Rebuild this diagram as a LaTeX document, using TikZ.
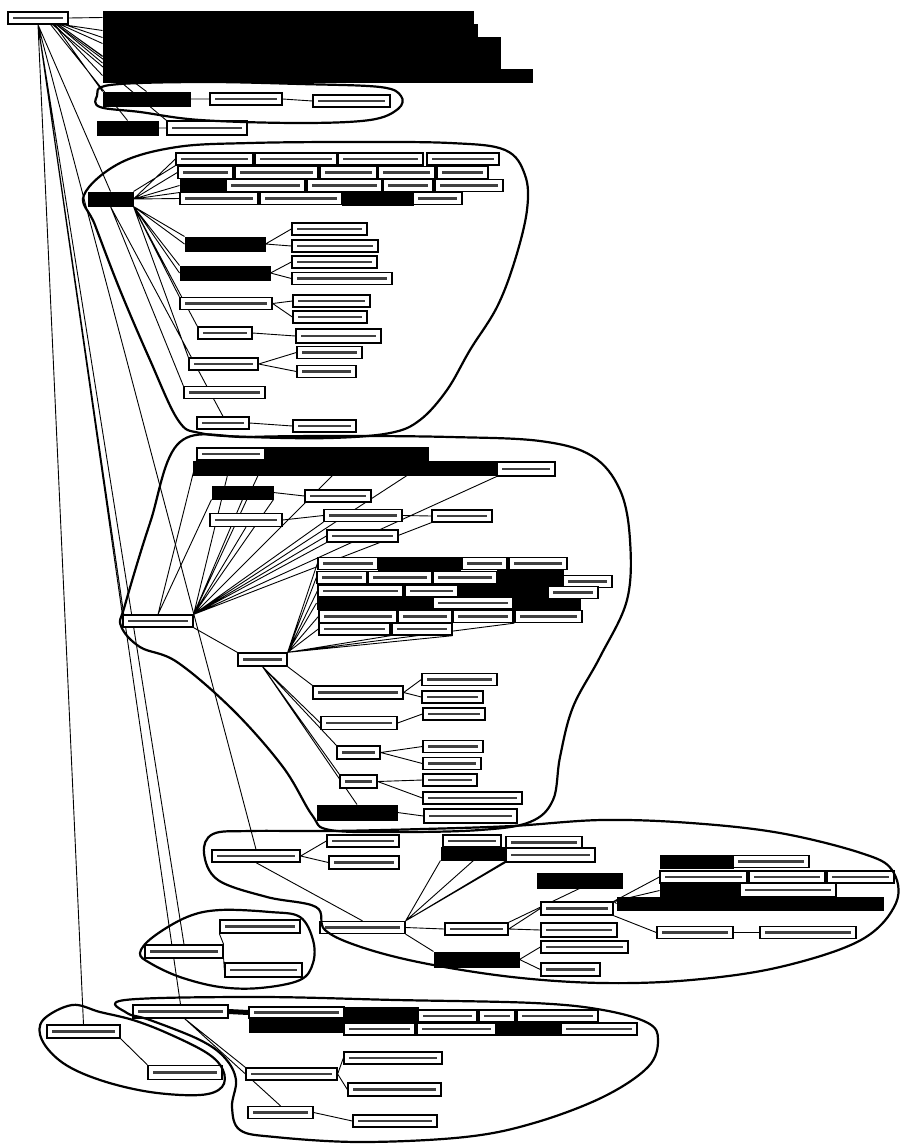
\documentclass[tikz,border=0pt]{standalone}
\usepackage{tikz}
\pgfdeclarelayer{back}
\pgfsetlayers{back,main}

\begin{document}
\begin{tikzpicture}[x=1pt,y=-1pt,
    lbl/.style={draw,line width=1.3pt,fill=white,inner sep=0pt,minimum height=12,
      path picture={\fill[black!75] ([xshift=5pt,yshift=-1.1pt]path picture bounding box.west)
        rectangle ([xshift=-5pt,yshift=1.1pt]path picture bounding box.east);}},
    blk/.style={draw,line width=1pt,fill=black,inner sep=0pt,minimum height=13},
    link/.style={line width=0.9pt},
    blob/.style={line width=2.2pt,line join=round}]
    \useasboundingbox (0,0) rectangle (903,1144);
    \begin{pgfonlayer}{back}
        \fill[white] (0,0) rectangle (903,1144);
    \end{pgfonlayer}

    % root
    \node[lbl,minimum width=60] (sys) at (38,18) {};

    % top block of stacked entries
    \node[blk,minimum width=370] (t1) at (288,17.5) {};
    \node[blk,minimum width=374] (t2) at (290,30.5) {};
    \node[blk,minimum width=397] (t3) at (301.5,43.5) {};
    \node[blk,minimum width=397] (t4) at (301.5,56.5) {};
    \node[blk,minimum width=397] (t5) at (301.5,63) {};
    \node[blk,minimum width=429] (t6) at (317.5,75.5) {};

    % first group
    \node[blk,minimum width=87,minimum height=14] (ua) at (146.5,99) {};
    \node[lbl,minimum width=72] (ub) at (246,99) {};
    \node[lbl,minimum width=77] (uc) at (351.5,101) {};
    \node[blk,minimum width=61,minimum height=14] (ud) at (127.5,128) {};
    \node[lbl,minimum width=80,minimum height=14] (ue) at (207,128) {};

    % second group
    \node[blk,minimum width=45,minimum height=14] (hubb) at (110.5,199) {};
    \node[lbl,minimum width=77] (ra1) at (214.5,159) {};
    \node[lbl,minimum width=82] (ra2) at (296,159) {};
    \node[lbl,minimum width=85] (ra3) at (380.5,159) {};
    \node[lbl,minimum width=72] (ra4) at (463,159) {};
    \node[lbl,minimum width=55] (rb1) at (205.5,172.5) {};
    \node[lbl,minimum width=83] (rb2) at (276.5,172.5) {};
    \node[lbl,minimum width=57] (rb3) at (348.5,172.5) {};
    \node[lbl,minimum width=57] (rb4) at (406.5,172.5) {};
    \node[lbl,minimum width=51] (rb5) at (462.5,172.5) {};
    \node[blk,minimum width=45] (rc1) at (202.5,185.5) {};
    \node[lbl,minimum width=79] (rc2) at (265.5,185.5) {};
    \node[lbl,minimum width=75] (rc3) at (344.5,185.5) {};
    \node[lbl,minimum width=50] (rc4) at (408,185.5) {};
    \node[lbl,minimum width=68] (rc5) at (469,185.5) {};
    \node[lbl,minimum width=78] (rd1) at (219,198.5) {};
    \node[lbl,minimum width=82] (rd2) at (301,198.5) {};
    \node[blk,minimum width=71] (rd3) at (377.5,198.5) {};
    \node[lbl,minimum width=49] (rd4) at (437.5,198.5) {};

    \node[blk,minimum width=80,minimum height=14] (sa) at (225,244) {};
    \node[lbl,minimum width=75] (sa1) at (329.5,229) {};
    \node[lbl,minimum width=86] (sa2) at (335,246) {};
    \node[blk,minimum width=90,minimum height=14] (sb) at (225,273) {};
    \node[lbl,minimum width=85] (sb1) at (334.5,262) {};
    \node[lbl,minimum width=100] (sb2) at (342,278.5) {};
    \node[lbl,minimum width=92] (sc) at (226,303.5) {};
    \node[lbl,minimum width=77] (sc1) at (331.5,301) {};
    \node[lbl,minimum width=74] (sc2) at (330,317) {};
    \node[lbl,minimum width=54] (sd) at (225,333) {};
    \node[lbl,minimum width=85,minimum height=14] (sd1) at (338.5,336) {};
    \node[lbl,minimum width=69] (se) at (223.5,364) {};
    \node[lbl,minimum width=65] (se1) at (329.5,352.5) {};
    \node[lbl,minimum width=59] (se2) at (326.5,371.5) {};
    \node[lbl,minimum width=81] (sf) at (224.5,392.5) {};
    \node[lbl,minimum width=52] (sg) at (223,423) {};
    \node[lbl,minimum width=63] (sg1) at (324.5,426) {};

    % third group
    \node[lbl,minimum width=68] (ha) at (231,454) {};
    \node[blk,minimum width=163,minimum height=14] (hk) at (346.5,454) {};
    \node[blk,minimum width=302,minimum height=14] (hr) at (344,468) {};
    \node[lbl,minimum width=58,minimum height=14] (hb) at (526,469) {};
    \node[blk,minimum width=61] (ia) at (242.5,492.5) {};
    \node[lbl,minimum width=66] (ia1) at (338,496) {};
    \node[lbl,minimum width=72,minimum height=13] (ja) at (246,520) {};
    \node[lbl,minimum width=78] (ka) at (363,515.5) {};
    \node[lbl,minimum width=60] (kb) at (462,516) {};
    \node[lbl,minimum width=71] (la) at (362.5,536) {};
    \node[lbl,minimum width=70] (hubc) at (158,621) {};
    \node[lbl,minimum width=49,minimum height=13] (mm) at (262.5,659.5) {};

    \node[blk,minimum width=82] (ca2) at (419,563.5) {};
    \node[blk,minimum width=66,minimum height=15] (cb4) at (530,577.5) {};
    \node[blk,minimum width=90,minimum height=14] (cc3) at (503,590) {};
    \node[blk,minimum width=116] (cd1) at (375,603) {};
    \node[blk,minimum width=67] (cd3) at (546.5,603) {};
    \node[lbl,minimum width=60] (ca1) at (348,563.5) {};
    \node[lbl,minimum width=45] (ca3) at (484.5,563.5) {};
    \node[lbl,minimum width=58] (ca4) at (538,563.5) {};
    \node[lbl,minimum width=50] (cb1) at (342,577.5) {};
    \node[lbl,minimum width=64] (cb2) at (400,577.5) {};
    \node[lbl,minimum width=64] (cb3) at (465,577.5) {};
    \node[lbl,minimum width=49] (cb5) at (587.5,581.5) {};
    \node[lbl,minimum width=85] (cc1) at (360.5,591) {};
    \node[lbl,minimum width=53] (cc2) at (431.5,591) {};
    \node[lbl,minimum width=50] (cc4) at (573,592.5) {};
    \node[lbl,minimum width=80] (cd2) at (473,603) {};
    \node[lbl,minimum width=78] (ce1) at (358,616.5) {};
    \node[lbl,minimum width=54] (ce2) at (425,616.5) {};
    \node[lbl,minimum width=60] (ce3) at (483,616.5) {};
    \node[lbl,minimum width=67] (ce4) at (548.5,616.5) {};
    \node[lbl,minimum width=71] (cf1) at (354.5,629) {};
    \node[lbl,minimum width=60] (cf2) at (422,629) {};

    \node[lbl,minimum width=90,minimum height=13] (na) at (358,692.5) {};
    \node[lbl,minimum width=75] (na1) at (459.5,679.5) {};
    \node[lbl,minimum width=61] (na2) at (452.5,697) {};
    \node[lbl,minimum width=76,minimum height=13] (oa) at (359,723) {};
    \node[lbl,minimum width=62] (oa1) at (454,714) {};
    \node[lbl,minimum width=43,minimum height=13] (pa) at (358.5,752.5) {};
    \node[lbl,minimum width=60] (pa1) at (453,746.5) {};
    \node[lbl,minimum width=58] (pa2) at (452,763.5) {};
    \node[lbl,minimum width=37,minimum height=13] (qa) at (358.5,781.5) {};
    \node[lbl,minimum width=54] (qa1) at (450,780) {};
    \node[lbl,minimum width=99] (qa2) at (472.5,798) {};
    \node[blk,minimum width=80,minimum height=15] (xa) at (357,812.5) {};
    \node[lbl,minimum width=93,minimum height=14] (xa1) at (470.5,816) {};

    % fourth group
    \node[lbl,minimum width=88] (sw) at (256,856) {};
    \node[lbl,minimum width=72] (sw1) at (363,841) {};
    \node[lbl,minimum width=70,minimum height=13] (sw2) at (364,862.5) {};
    \node[blk,minimum width=65] (tk) at (473.5,853.5) {};
    \node[lbl,minimum width=58] (tw) at (472,841) {};
    \node[lbl,minimum width=76] (tw1) at (544,842.5) {};
    \node[lbl,minimum width=89,minimum height=14] (tw2) at (550.5,855) {};
    \node[blk,minimum width=85,minimum height=15] (uk) at (579.5,880.5) {};
    \node[lbl,minimum width=85] (hubd) at (362.5,927.5) {};
    \node[lbl,minimum width=63] (va) at (476.5,929) {};
    \node[lbl,minimum width=76,minimum height=14] (va1) at (579,930) {};
    \node[lbl,minimum width=72,minimum height=13] (wa) at (577,908.5) {};
    \node[lbl,minimum width=87] (xb) at (584.5,947) {};
    \node[blk,minimum width=85,minimum height=15] (yk) at (476.5,959.5) {};
    \node[lbl,minimum width=59,minimum height=13] (za) at (570.5,969.5) {};
    \node[blk,minimum width=266] (k4k) at (750,903.5) {};
    \node[blk,minimum width=73] (k1k) at (696.5,861.5) {};
    \node[blk,minimum width=80,minimum height=15] (k3k) at (700,890.5) {};
    \node[lbl,minimum width=76] (k1) at (771,861.5) {};
    \node[lbl,minimum width=87] (k2a) at (703.5,877) {};
    \node[lbl,minimum width=76] (k2b) at (787,877) {};
    \node[lbl,minimum width=67] (k2c) at (860.5,877) {};
    \node[lbl,minimum width=96,minimum height=13] (k3) at (788,890) {};
    \node[lbl,minimum width=76] (aa) at (695,932.5) {};
    \node[lbl,minimum width=96] (ab) at (808,932.5) {};

    % fifth group
    \node[lbl,minimum width=78,minimum height=13] (mf) at (184,951.5) {};
    \node[lbl,minimum width=80,minimum height=13] (tf) at (260,926.5) {};
    \node[lbl,minimum width=77,minimum height=14] (bf) at (263.5,970) {};

    % sixth group
    \node[lbl,minimum width=95,minimum height=13] (hube) at (180.5,1011.5) {};
    \node[blk,minimum width=95,minimum height=14] (fk) at (296.5,1025) {};
    \node[lbl,minimum width=95,minimum height=11] (fa) at (296.5,1012.5) {};
    \node[blk,minimum width=74,minimum height=15] (fk2) at (381,1014.5) {};
    \node[blk,minimum width=65] (fk3) at (528.5,1029) {};
    \node[lbl,minimum width=59] (fb) at (447.5,1016) {};
    \node[lbl,minimum width=36] (fc) at (497,1016) {};
    \node[lbl,minimum width=81] (fd) at (557.5,1016) {};
    \node[lbl,minimum width=71] (fe) at (379.5,1029) {};
    \node[lbl,minimum width=79] (ff) at (456.5,1029) {};
    \node[lbl,minimum width=76] (fg) at (599,1029) {};
    \node[lbl,minimum width=91] (bb) at (291.5,1074) {};
    \node[lbl,minimum width=98] (bb1) at (393,1058) {};
    \node[lbl,minimum width=93,minimum height=13] (bb2) at (394.5,1089.5) {};
    \node[lbl,minimum width=65] (cc) at (280.5,1112.5) {};
    \node[lbl,minimum width=84] (cc5) at (395,1121) {};

    % seventh group
    \node[lbl,minimum width=73,minimum height=13] (dd) at (83.5,1031.5) {};
    \node[lbl,minimum width=74,minimum height=14] (ee) at (185,1072.5) {};

    \begin{pgfonlayer}{back}
        % from the root
        \draw[link] (sys.east) -- (t1.west) ([xshift=-6pt]sys.south east) -- (t2.west)
            ([xshift=-8pt]sys.south east) -- (t3.west) ([xshift=-10pt]sys.south east) -- (t4.west)
            ([xshift=-12pt]sys.south east) -- (t5.west) ([xshift=-14pt]sys.south east) -- (t6.west)
            ([xshift=-4pt]sys.south east) -- (t2.south west) ([xshift=-10pt]sys.south east) -- (t5.north west);
        \draw[link] ([xshift=-14pt]sys.south east) -- (ua.north west) ([xshift=-12pt]sys.south east) -- (ua.north)
            ([xshift=-18pt]sys.south east) -- (ud.north) ([xshift=-16pt]sys.south east) -- (ue.north west);
        \draw[link] (sys.south) -- (hubb.north) (sys.south) -- (hubc.north west) (sys.south) -- (sw.north)
            (sys.south) -- (mf.north) (sys.south) -- (hube.north) (sys.south) -- (dd.north);
        \draw[link] (ua.east) -- (ub.west) (ub.east) -- (uc.west) (ud.east) -- (ue.west);

        % second group
        \draw[link] (hubb.east) -- (ra1.west) (hubb.east) -- (rb1.west) (hubb.east) -- (rc1.west)
            (hubb.east) -- (rd1.west) (hubb.north east) -- (ra1.south west) (hubb.east) -- (rc1.south west);
        \draw[link] (hubb.south east) -- (sa.north west) (hubb.south east) -- (sa.west)
            (hubb.south east) -- (sb.north west) (hubb.south east) -- (sb.west)
            (hubb.south east) -- (sc.north west) (hubb.south east) -- (sd.north west)
            (hubb.south east) -- (se.north west) (hubb.south) -- (sf.north west) (hubb.south) -- (sg.north);
        \draw[link] (sa.east) -- (sa1.west) (sa.east) -- (sa2.west) (sb.east) -- (sb1.west) (sb.east) -- (sb2.west)
            (sc.east) -- (sc1.west) (sc.east) -- (sc2.west) (sd.east) -- (sd1.west)
            (se.east) -- (se1.west) (se.east) -- (se2.west) (sg.east) -- (sg1.west);

        % third group
        \draw[link] (hubc.north east) -- (ha.south) (hubc.north east) -- (hk.south west) (hubc.north east) -- (hk.south)
            (hubc.north east) -- (hk.south east) (hubc.north east) -- (hb.south west) (hubc.north east) -- (ia.south)
            (hubc.north east) -- (ia.south east) (hubc.north east) -- (ja.south) (hubc.north east) -- (ka.south west)
            (hubc.north east) -- (kb.south west) (hubc.north east) -- (la.south west) (hubc.north east) -- (la.west)
            (hubc.north) -- (ha.south west) (hubc.north) -- (ia.south west);
        \draw[link] (ia.east) -- (ia1.west) (ja.east) -- (ka.west) (ka.east) -- (kb.west);
        \draw[link] (hubc.south east) -- (mm.north west);
        \draw[link] (mm.north east) -- (ca1.west) (mm.north east) -- (cb1.west) (mm.north east) -- (cc1.west)
            (mm.north east) -- (cd1.west) (mm.north east) -- (ce1.west) (mm.north east) -- (cf1.west)
            (mm.north east) -- (cf1.south east) (mm.north east) -- (cf2.south east) (mm.north east) -- (ce4.south west);
        \draw[link] (mm.south east) -- (na.north west) (mm.south) -- (oa.west) (mm.south) -- (pa.north west)
            (mm.south) -- (qa.north west) (mm.south) -- (xa.north);
        \draw[link] (na.east) -- (na1.west) (na.east) -- (na2.west) (oa.east) -- (oa1.west)
            (pa.east) -- (pa1.west) (pa.east) -- (pa2.west) (qa.east) -- (qa1.west) (qa.east) -- (qa2.west)
            (xa.east) -- (xa1.west);

        % fourth group
        \draw[link] (sw.east) -- (sw1.west) (sw.east) -- (sw2.west) (sw.south) -- (hubd.north);
        \draw[link] (hubd.north east) -- (tk.south west) (hubd.north east) -- (tk.south)
            (hubd.north east) -- (tk.south east) (hubd.north east) -- (tw2.south west)
            (hubd.east) -- (va.west) (hubd.south east) -- (yk.north west);
        \draw[link] (va.north east) -- (uk.south) (va.east) -- (wa.west) (va.east) -- (va1.west)
            (yk.east) -- (xb.west) (yk.east) -- (za.west);
        \draw[link] (wa.north east) -- (k2a.west) (wa.north east) -- (k3k.west) (wa.north east) -- (k3k.south west)
            (wa.north east) -- (k4k.west) (wa.south east) -- (aa.west) (aa.east) -- (ab.west);

        % fifth group
        \draw[link] (mf.north east) -- (tf.south west) (mf.south east) -- (bf.west);

        % sixth and seventh group
        \draw[line width=5pt] (hube.east) -- (fa.west);
        \draw[link] (hube.-60) -- (bb.north west) (hube.-60) -- (cc.north)
            (bb.east) -- (bb1.west) (bb.east) -- (bb2.west) (cc.east) -- (cc5.west);
        \draw[link] (dd.south east) -- (ee.north west);
    \end{pgfonlayer}

    % group outlines
    \draw[blob] plot[smooth cycle,tension=0.6] coordinates {(97,96) (110,85) (200,82) (300,84) (380,87)
        (401,96) (398,109) (370,120) (300,123) (200,120) (140,112) (100,107)};
    \draw[blob] plot[smooth cycle,tension=0.6] coordinates {(84,195) (120,163) (177,147) (250,143) (350,142)
        (450,143) (505,150) (525,175) (527,210) (515,260) (497,307) (470,350) (447,390) (420,420) (390,433)
        (330,438) (250,437) (200,433) (178,420) (150,360) (120,290) (95,225)};
    \draw[blob] plot[smooth cycle,tension=0.6] coordinates {(180,442) (250,437) (350,436) (450,437) (540,441)
        (592,456) (620,490) (630,540) (627,600) (600,657) (573,707) (560,757) (553,800) (530,822) (480,830)
        (400,832) (330,830) (312,815) (283,767) (233,710) (177,662) (140,647) (121,626) (125,605) (150,523)};
    \draw[blob] plot[smooth cycle,tension=0.6] coordinates {(213,834) (204,853) (218,880) (267,897) (316,907)
        (325,930) (361,947) (423,963) (512,977) (602,983) (691,980) (780,967) (861,940) (896,903) (892,870)
        (861,853) (780,833) (691,823) (602,820) (512,826) (423,829) (330,831) (250,831)};
    \draw[blob] plot[smooth cycle,tension=0.6] coordinates {(140,953) (153,937) (187,917) (220,910) (270,912)
        (300,917) (313,940) (313,963) (300,980) (260,988) (220,987) (180,977) (150,963)};
    \draw[blob] plot[smooth cycle,tension=0.6] coordinates {(125,1000) (258,997) (396,1000) (534,1003) (603,1010)
        (648,1023) (658,1040) (648,1067) (603,1097) (534,1123) (465,1137) (361,1142) (275,1137) (240,1130)
        (232,1107) (236,1080) (225,1058) (200,1040) (150,1020) (127,1013)};
    \draw[blob] plot[smooth cycle,tension=0.6] coordinates {(72,1005) (43,1020) (42,1040) (63,1063) (100,1080)
        (150,1092) (200,1095) (222,1087) (223,1070) (207,1053) (167,1033) (133,1020) (100,1012)};
\end{tikzpicture}
\end{document}
